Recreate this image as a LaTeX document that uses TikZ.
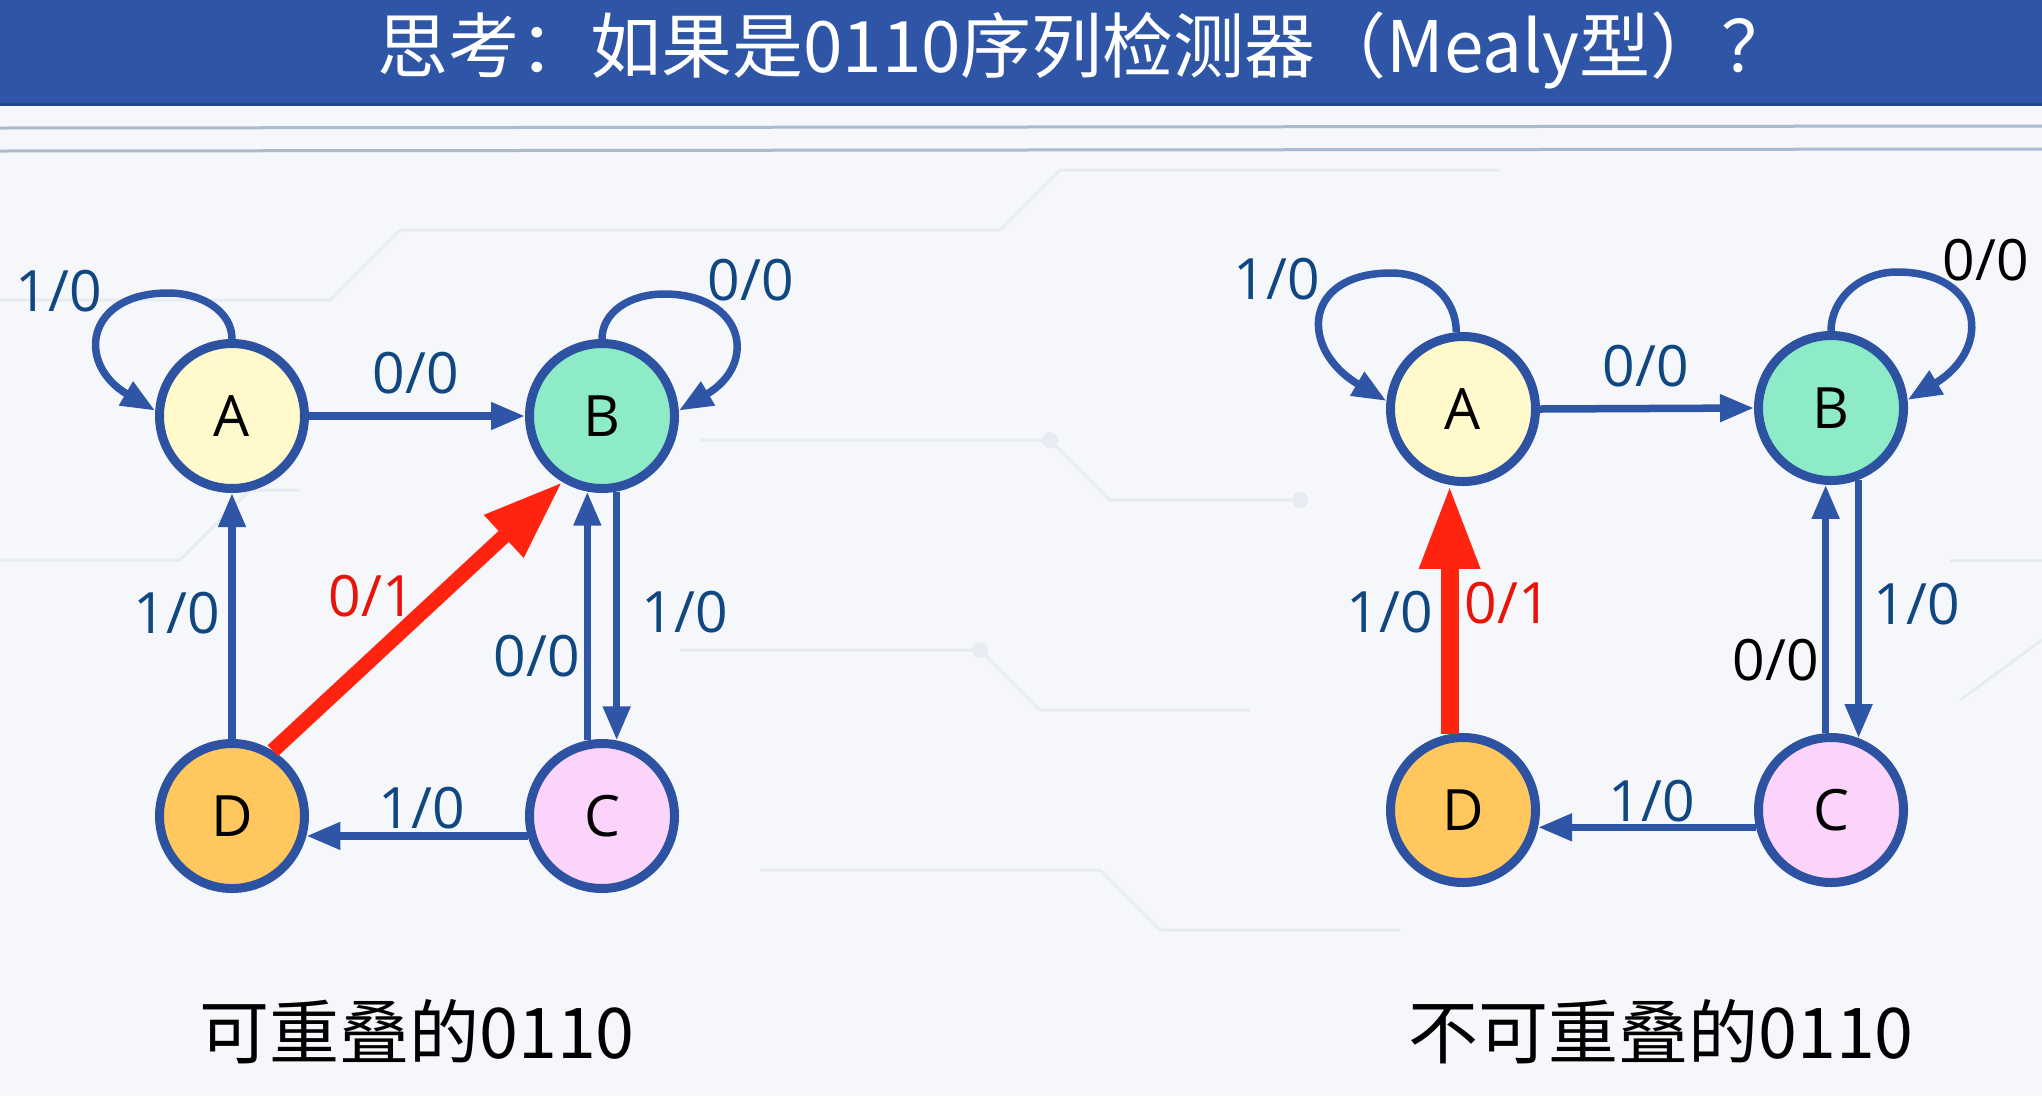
\documentclass[tikz,border=0pt]{standalone}
\usepackage{fontspec}
\setmainfont{Open Sans}
\newfontfamily\cjk{Noto Sans CJK SC}
\usetikzlibrary{arrows.meta,calc}
\definecolor{bgcol}{HTML}{F5F7FA}
\definecolor{barcol}{HTML}{2F56A6}
\definecolor{barline}{HTML}{24478C}
\definecolor{rulecol}{HTML}{A9BBD0}
\definecolor{faint}{HTML}{E8ECF2}
\definecolor{edgecol}{HTML}{2F55A6}
\definecolor{bordercol}{HTML}{2D52A2}
\definecolor{lblcol}{HTML}{104780}
\definecolor{redcol}{HTML}{FF2410}
\definecolor{redlbl}{HTML}{E8140A}
\definecolor{fillA}{HTML}{FFF9CC}
\definecolor{fillB}{HTML}{8DEBC8}
\definecolor{fillC}{HTML}{FBD3FB}
\definecolor{fillD}{HTML}{FFC75E}
\begin{document}
\begin{tikzpicture}[x=1pt,y=-1pt,
  state/.style={circle, draw=bordercol, line width=9pt, minimum size=145pt, inner sep=0pt,
    font=\fontsize{57}{60}\selectfont},
  edge/.style={draw=edgecol, line width=7.5pt, -{Triangle[length=34pt,width=26pt]}},
  redarrow/.style={draw=redcol, line width=15pt, -{Triangle[length=80pt,width=54pt]}},
  lbl/.style={text=lblcol, inner sep=0pt, font=\fontsize{57}{60}\selectfont},
  blbl/.style={lbl, text=black},
  rlbl/.style={lbl, text=redlbl},
  caption/.style={inner sep=0pt, font=\cjk\fontsize{70}{76}\selectfont},
  bgline/.style={draw=faint, line width=3pt}]
\useasboundingbox (0,0) rectangle (2042,1096);
\fill[bgcol] (0,0) rectangle (2042,1096);
% faint circuit pattern
\draw[bgline] (0,300) -- (330,300) -- (400,230) -- (1000,230) -- (1060,170) -- (1500,170);
\draw[bgline] (0,560) -- (180,560) -- (250,490) -- (300,490);
\draw[bgline] (700,440) -- (1050,440) -- (1110,500) -- (1300,500);
\draw[bgline] (680,650) -- (980,650) -- (1040,710) -- (1250,710);
\draw[bgline] (760,870) -- (1100,870) -- (1160,930) -- (1400,930);
\draw[bgline] (1950,560) -- (2042,560);
\draw[bgline] (1960,700) -- (2042,640);
\fill[faint] (1050,440) circle (8pt) (980,650) circle (8pt) (1300,500) circle (8pt);
% title bar
\fill[barcol] (0,0) rectangle (2042,104);
\draw[barline, line width=3pt] (0,104) -- (2042,104);
\draw[rulecol, line width=3pt] (0,128) -- (2042,126);
\draw[rulecol, line width=3pt] (0,151) -- (2042,149);
\node[text=white, inner sep=0pt, font=\cjk\fontsize{71}{78}\selectfont] (title) at (1085,50)
  {思考：如果是0110序列检测器（Mealy型）？};

% ---------- left diagram ----------
\node[state, fill=fillA] (A) at (232,416) {A};
\node[state, fill=fillB] (B) at (602,416) {B};
\node[state, fill=fillD] (D) at (232,816) {D};
\node[state, fill=fillC] (C) at (602,816) {C};

\coordinate (Atop) at ($(A.center)+(-64,-123)$);
\coordinate (Btop) at ($(B.center)+(62,-122)$);
\draw[edge] (A.north) .. controls +(0,-27) and +(35,0) .. (Atop)
  .. controls +(-82,0) and +(-80,-47) .. (A.176);
\draw[edge] (B.north) .. controls +(0,-27) and +(-34,0) .. (Btop)
  .. controls +(80,0) and +(80,-47) .. (B.4);
\draw[edge] (A.east) -- (B.west);
\draw[edge] (D.north) -- (A.south);
\draw[edge] (B.-79) -- (C.79);
\draw[edge] (C.101) -- (B.-101);
\draw[edge] (C.195) -- (D.-15);
\draw[redarrow] (D.58) -- (B.239);

\node[lbl] (lA) at (59,291) {1/0};
\node[lbl] (lAB) at (416,373) {0/0};
\node[lbl] (lB) at (751,280) {0/0};
\node[lbl] (lDA) at (177,613) {1/0};
\node[rlbl] (lDB) at (372,596) {0/1};
\node[lbl] (lBC) at (685,612) {1/0};
\node[lbl] (lCB) at (537,656) {0/0};
\node[lbl] (lCD) at (422,808) {1/0};

\node[caption] (cap1) at (417,1032) {可重叠的0110};

% ---------- right diagram ----------
\node[state, fill=fillA] (A2) at (1463,409) {A};
\node[state, fill=fillB] (B2) at (1831,408) {B};
\node[state, fill=fillD] (D2) at (1463,810) {D};
\node[state, fill=fillC] (C2) at (1831,810) {C};

\coordinate (A2top) at ($(A2.center)+(-72,-136)$);
\coordinate (B2top) at ($(B2.center)+(66,-136)$);
\draw[edge] (A2.95) .. controls +(0,-32) and +(40,0) .. (A2top)
  .. controls +(-88,0) and +(-88,-52) .. (A2.174);
\draw[edge] (B2.north) .. controls +(0,-32) and +(-37,0) .. (B2top)
  .. controls +(86,0) and +(86,-52) .. (B2.6);
\draw[edge] (A2.east) -- (B2.west);
\draw[edge] (B2.-69) -- (C2.69);
\draw[edge] (C2.94) -- (B2.-94);
\draw[edge] (C2.193) -- (D2.-13);
\draw[redarrow, line width=18pt, -{Triangle[length=84pt,width=56pt]}] (D2.100) -- (A2.260);

\node[lbl] (rA) at (1277,279) {1/0};
\node[lbl] (rAB) at (1646,366) {0/0};
\node[blbl] (rB) at (1986,260) {0/0};
\node[lbl] (rDA) at (1390,612) {1/0};
\node[rlbl] (rDA2) at (1508,603) {0/1};
\node[lbl] (rBC) at (1917,604) {1/0};
\node[blbl] (rCB) at (1776,660) {0/0};
\node[lbl] (rCD) at (1652,801) {1/0};

\node[caption] (cap2) at (1661,1032) {不可重叠的0110};
\end{tikzpicture}
\end{document}
